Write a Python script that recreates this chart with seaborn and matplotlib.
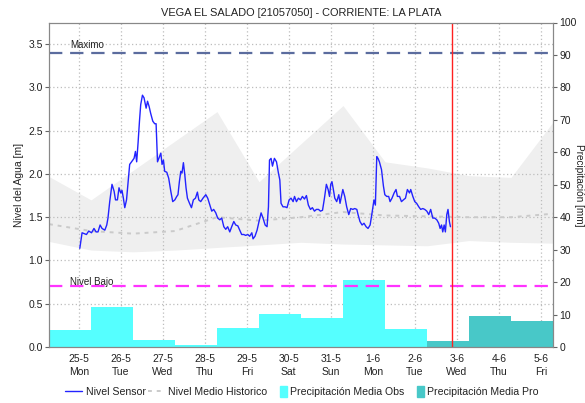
import numpy as np
import pandas as pd
import matplotlib
matplotlib.use("Agg")
import matplotlib.pyplot as plt
import matplotlib.patches as mpatches
from matplotlib.lines import Line2D
from matplotlib.legend_handler import HandlerPatch
from matplotlib.ticker import MultipleLocator
import seaborn as sns

# ---------------------------------------------------------------- data
title = "VEGA EL SALADO [21057050] - CORRIENTE: LA PLATA"
day_labels = ["25-5", "26-5", "27-5", "28-5", "29-5", "30-5",
              "31-5", "1-6", "2-6", "3-6", "4-6", "5-6"]
weekday_labels = ["Mon", "Tue", "Wed", "Thu", "Fri", "Sat",
                  "Sun", "Mon", "Tue", "Wed", "Thu", "Fri"]

# sensor readings: hours since 25-5 00:00, water level [m]
sensor_hours = [
    0.6, 1.9, 4.4, 5.7, 7.3, 8.7, 9.9, 11.0, 12.2, 13.3, 14.9, 16.0, 16.7, 17.7,
    19.0, 20.2, 21.0, 22.1, 23.0, 24.0, 24.7, 25.5, 26.3, 27.3, 28.2, 29.1, 30.5,
    31.6, 32.4, 33.1, 33.9, 34.7, 35.4, 36.4, 37.3, 38.5, 39.3, 40.2, 41.1, 42.3,
    43.4, 44.2, 45.0, 46.1, 46.9, 47.6, 48.4, 49.1, 50.3, 51.4, 52.6, 53.7, 54.9,
    56.0, 56.7, 57.5, 58.3, 59.0, 59.8, 60.6, 61.3, 62.1, 63.3, 64.4, 65.5, 66.7,
    67.8, 68.6, 69.7,
    71.0, 72.6, 73.7, 74.9, 76.0, 77.1, 78.3, 79.4, 80.6, 81.7, 82.9, 84.0, 85.1,
    86.3, 87.4, 88.6, 89.7, 90.9, 92.0, 93.1, 94.3, 95.4, 96.6, 97.7, 98.9, 99.6,
    100.7, 101.9, 103.0, 104.2, 105.3, 106.5, 107.6, 108.4, 109.0, 109.9, 110.7,
    111.8, 113.0, 114.1, 114.9, 115.6, 116.7, 117.9, 119.0, 120.2, 121.3, 122.5,
    123.3, 124.4, 125.5, 126.7, 127.8, 129.0, 130.1, 131.2, 132.4, 133.5, 134.7,
    135.8, 137.0, 138.1, 139.3, 140.4,
    141.5, 142.5, 143.3, 144.0, 144.7, 145.5, 146.3, 147.4, 148.6, 149.3, 150.1,
    150.9, 152.0, 153.1, 154.3, 155.4, 156.6, 157.7, 158.9, 159.6, 160.7, 161.9,
    163.0, 164.2, 165.3, 166.5, 167.6, 168.7, 169.5, 170.3, 171.0, 171.8, 173.0,
    174.1, 174.9, 176.0, 177.1, 177.9, 179.0, 180.2, 181.3, 182.1, 183.3, 184.4,
    185.5, 186.7, 187.8, 189.0, 189.7, 190.9, 192.0, 193.1, 194.3, 195.4, 196.6,
    197.7, 198.9, 200.0, 201.1, 202.3, 203.4, 204.6, 205.7, 206.5, 207.3, 208.0,
    208.8, 209.5, 210.3, 211.0, 211.8, 212.4,
]
sensor_level = [
    1.14, 1.32, 1.30, 1.34, 1.32, 1.37, 1.33, 1.33, 1.41, 1.37, 1.35, 1.41, 1.49, 1.68,
    1.88, 1.80, 1.70, 1.70, 1.84, 1.78, 1.81, 1.72, 1.61, 1.70, 1.91, 2.11, 2.15,
    2.18, 2.26, 2.14, 2.36, 2.61, 2.80, 2.91, 2.88, 2.76, 2.84, 2.78, 2.70, 2.61,
    2.58, 2.58, 2.14, 2.20, 2.24, 2.11, 2.16, 2.03, 2.02, 1.95, 1.80, 1.68, 1.70,
    1.74, 1.76, 1.91, 2.03, 2.01, 2.13, 1.99, 1.84, 1.72, 1.66, 1.61, 1.70, 1.72,
    1.79, 1.70, 1.68,
    1.72, 1.76, 1.72, 1.64, 1.57, 1.59, 1.55, 1.49, 1.47, 1.49, 1.39, 1.36, 1.39,
    1.33, 1.39, 1.45, 1.41, 1.40, 1.35, 1.30, 1.30, 1.29, 1.30, 1.28, 1.32, 1.25,
    1.28, 1.35, 1.45, 1.55, 1.49, 1.41, 1.39, 1.62, 2.16, 2.18, 2.09,
    2.18, 2.14, 2.01, 1.93, 1.66, 1.62, 1.62, 1.61, 1.70, 1.72, 1.68,
    1.74, 1.68, 1.72, 1.70, 1.74, 1.71, 1.75, 1.64, 1.59, 1.61, 1.57,
    1.59, 1.59, 1.57, 1.58, 1.72,
    1.88, 1.82, 1.74, 1.88, 1.91, 1.82, 1.72, 1.68, 1.76, 1.66, 1.74,
    1.82, 1.74, 1.62, 1.53, 1.60, 1.59, 1.60, 1.59, 1.53, 1.45, 1.41,
    1.43, 1.39, 1.37, 1.41, 1.55, 1.70, 1.64, 2.20, 2.18, 2.14, 2.05,
    1.86, 1.76, 1.74, 1.74, 1.68, 1.72, 1.78, 1.82, 1.74, 1.74, 1.68,
    1.70, 1.72, 1.82, 1.78, 1.82, 1.74, 1.68, 1.66, 1.62, 1.59, 1.60,
    1.59, 1.57, 1.53, 1.59, 1.49, 1.49, 1.47, 1.43, 1.37, 1.41, 1.33,
    1.41, 1.33, 1.53, 1.59, 1.45, 1.39,
]

# daily historical statistics (07:00 each day, from 24-5 to 5-6) [m]
hist_upper = [1.97, 1.70, 2.04, 2.38, 2.72, 1.91, 2.35, 2.79, 2.14, 2.07, 1.98, 1.96, 2.60]
hist_lower = [1.22, 1.12, 1.10, 1.12, 1.15, 1.18, 1.21, 1.19, 1.18, 1.17, 1.23, 1.21, 1.20]
hist_mean = [1.42, 1.34, 1.31, 1.34, 1.50, 1.46, 1.50, 1.56, 1.52, 1.51, 1.50, 1.50, 1.54]

# daily precipitation (07:00 to 07:00) [mm]
precip_obs = [5.3, 12.4, 2.2, 0.7, 6.0, 10.2, 9.0, 20.5, 5.6]
precip_pro = [1.9, 9.6, 8.1]

nivel_maximo = 3.40
nivel_bajo = 0.70
now_hours = 213.3

LEVEL_MAX = 3.75
PRECIP_MAX = 100

# ---------------------------------------------------------------- style
sns.set_style("white")
plt.rcParams["font.family"] = ["Liberation Sans", "DejaVu Sans"]
TXT = "#222222"

fig = plt.figure(figsize=(5.85, 4.03), dpi=100)
ax = fig.add_axes([49 / 585, 56 / 403, 504 / 585, 324.5 / 403])
ax2 = ax.twinx()

day0 = -17 / 24          # 24-5 07:00, start of the first daily window
n_days = len(precip_obs) + len(precip_pro)
ax.set_xlim(day0, day0 + n_days)
ax.set_ylim(0, LEVEL_MAX)
ax2.set_ylim(0, PRECIP_MAX)

# historical band and mean
hist_x = day0 + np.arange(len(hist_upper))
ax.fill_between(hist_x, hist_lower, hist_upper, color="#EFEFEF", lw=0, zorder=0.2)

# grid
ax.set_axisbelow(True)
ax.grid(True, color="#BDBDBD", linestyle=(0, (1, 2)), linewidth=0.9)

# precipitation bars on the right-hand scale
bar_x = day0 + np.arange(n_days)
ax.bar(bar_x[:len(precip_obs)], precip_obs, width=1.0, align="edge",
       color="#55FFFF", lw=0, zorder=1, transform=ax2.transData)
ax.bar(bar_x[len(precip_obs):], precip_pro, width=1.0, align="edge",
       color="#48C8C8", lw=0, zorder=1, transform=ax2.transData)

sns.lineplot(x=hist_x, y=hist_mean, ax=ax, color="#CACACA", lw=1.4,
             linestyle=(0, (2, 2.5)), zorder=2)

# reference levels
ax.axhline(nivel_maximo, color="#5B6C9E", lw=1.6, dashes=(6, 3.5), zorder=3)
ax.axhline(nivel_bajo, color="#FF33FF", lw=1.6, dashes=(6, 3.5), zorder=3)
ax.text(-0.21, nivel_maximo + 0.03, "Maximo", fontsize=7, color=TXT, va="bottom")
ax.text(-0.21, nivel_bajo + 0.02, "Nivel Bajo", fontsize=7, color=TXT, va="baseline")

# sensor record
sensor = pd.DataFrame({"t": np.array(sensor_hours) / 24, "nivel": sensor_level})
sns.lineplot(data=sensor, x="t", y="nivel", ax=ax, color="#2323FF", lw=1.0,
             estimator=None, sort=False, zorder=4)

ax.axvline(now_hours / 24, color="#FF2020", lw=1.0, zorder=5)

# ---------------------------------------------------------------- axes
ax.set_xticks(np.arange(len(day_labels)))
ax.set_xticklabels([f"{d}\n{w}" for d, w in zip(day_labels, weekday_labels)],
                   fontsize=7.5, color=TXT, linespacing=1.35)
ax.xaxis.set_minor_locator(MultipleLocator(1 / 24))
ax.tick_params(axis="x", which="major", length=3, width=0.8, color="#444444", pad=2)
ax.tick_params(axis="x", which="minor", length=2, width=0.6, color="#333333")

ax.set_yticks(np.arange(0, 3.6, 0.5))
ax.set_yticklabels([f"{v:.1f}" for v in np.arange(0, 3.6, 0.5)], fontsize=7.5, color=TXT)
ax.tick_params(axis="y", length=3, width=0.8, color="#666666", pad=1.5, left=True)

ax2.set_yticks(np.arange(0, 101, 10))
ax2.set_yticklabels([str(v) for v in range(0, 101, 10)], fontsize=7.5, color=TXT)
ax2.tick_params(axis="y", length=3, width=0.8, color="#666666", pad=1.5, right=True)
ax2.grid(False)

ax.set_xlabel("")
ax.set_ylabel("Nivel del Agua [m]", fontsize=7.5, color=TXT, labelpad=3)
ax2.set_ylabel("Precipitación [mm]", fontsize=7.2, color=TXT, rotation=270)
ax2.yaxis.label.set_verticalalignment("center")
ax2.yaxis.label.set_horizontalalignment("center")
ax2.yaxis.set_label_coords((578.5 - 49) / 504, 0.5)

for a in (ax, ax2):
    for s in a.spines.values():
        s.set_color("#888888")
        s.set_linewidth(0.8)

ax.set_title(title, fontsize=7.9, color=TXT, pad=5)

# ---------------------------------------------------------------- legend
def narrow_box(legend, orig_handle, xdescent, ydescent, width, height, fontsize):
    return mpatches.Rectangle((width * 0.62 - xdescent, -ydescent - 0.25 * height),
                              width * 0.38, height * 1.5)

handles = [
    Line2D([], [], color="#2323FF", lw=1.0),
    Line2D([], [], color="#CACACA", lw=1.4, linestyle=(0, (2, 2.5))),
    mpatches.Patch(color="#55FFFF"),
    mpatches.Patch(color="#48C8C8"),
]
labels = ["Nivel Sensor", "Nivel Medio Historico",
          "Precipitación Media Obs", "Precipitación Media Pro"]
fig.legend(handles, labels, loc="center", bbox_to_anchor=(302 / 585, 11 / 403),
           ncol=4, frameon=False, fontsize=7.6, handlelength=1.6,
           handletextpad=0.3, columnspacing=0.25, labelcolor=TXT,
           handler_map={mpatches.Patch: HandlerPatch(patch_func=narrow_box)})

fig.savefig("out.png", dpi=100)
